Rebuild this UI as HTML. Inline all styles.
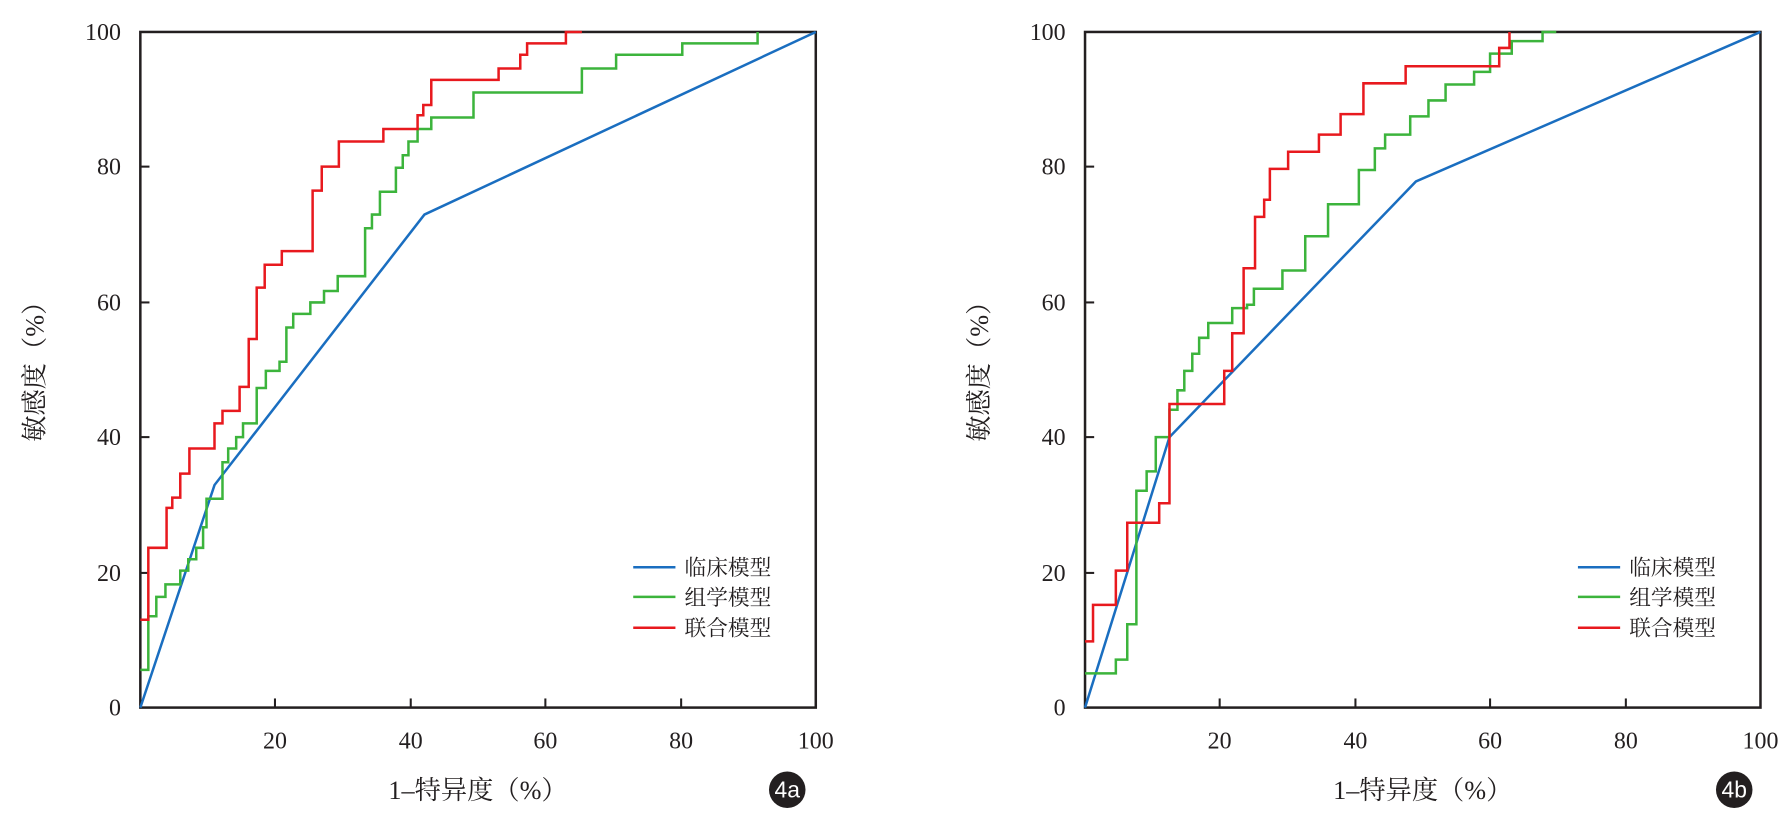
<!DOCTYPE html>
<html><head><meta charset="utf-8"><style>
html,body{margin:0;padding:0;background:#fff;}
svg{display:block;}
svg text{font-family:"Liberation Serif","Noto Serif CJK SC",serif;fill:#231f20;}
</style></head><body>
<svg width="1789" height="824" viewBox="0 0 1568 722" preserveAspectRatio="none" xmlns="http://www.w3.org/2000/svg">
<defs>
<g id="axes">
<rect x="123" y="28" width="592" height="592" fill="none" stroke="#231f20" stroke-width="2.2"/>
<g stroke="#231f20" stroke-width="1.8">
<line x1="241" y1="620" x2="241" y2="612"/><line x1="360" y1="620" x2="360" y2="612"/><line x1="478" y1="620" x2="478" y2="612"/><line x1="597" y1="620" x2="597" y2="612"/>
<line x1="123" y1="502" x2="131" y2="502"/><line x1="123" y1="383" x2="131" y2="383"/><line x1="123" y1="265" x2="131" y2="265"/><line x1="123" y1="146" x2="131" y2="146"/>
</g>
<g font-size="21" text-anchor="end">
<text x="106" y="627">0</text><text x="106" y="509">20</text><text x="106" y="390">40</text><text x="106" y="272">60</text><text x="106" y="153">80</text><text x="106" y="35">100</text>
</g>
<g font-size="21" text-anchor="middle">
<text x="241" y="656">20</text><text x="360" y="656">40</text><text x="478" y="656">60</text><text x="597" y="656">80</text><text x="715" y="656">100</text>
</g>
<text x="419" y="700" font-size="23" text-anchor="middle">1–特异度（%）</text>
<text transform="translate(38,320) rotate(-90)" font-size="23" text-anchor="middle">敏感度（%）</text>
<g font-size="19" stroke-width="2.2">
<line x1="555" y1="497" x2="592" y2="497" stroke="#1a6ec0"/><text x="600" y="504">临床模型</text>
<line x1="555" y1="523" x2="592" y2="523" stroke="#3cb43c"/><text x="600" y="530">组学模型</text>
<line x1="555" y1="550" x2="592" y2="550" stroke="#e8191e"/><text x="600" y="557">联合模型</text>
</g>
</g>
</defs>
<use href="#axes"/>
<g fill="none" stroke-width="2.2">
<path d="M123,620 L188,425 L372,188 L715,28" stroke="#1a6ec0"/>
<path d="M123,587 H130 V540 H137 V523 H145 V512 H158 V500 H165 V490 H172 V480 H178 V462 H181 V437 H195 V405 H200 V393 H207 V383 H213 V371 H225 V340 H233 V325 H245 V317 H251 V287 H257 V275 H272 V265 H284 V255 H296 V242 H320 V200 H326 V188 H333 V168 H347 V147 H353 V136 H358 V124 H366 V113 H378 V103 H415 V81 H510 V60 H540 V48 H598 V38 H664 V28" stroke="#3cb43c"/>
<path d="M123,543 H130 V480 H146 V445 H151 V436 H158 V415 H166 V393 H188 V371 H195 V360 H210 V339 H218 V297 H225 V252 H232 V232 H247 V220 H274 V167 H282 V146 H297 V124 H336 V113 H366 V101 H371 V92 H378 V70 H437 V60 H456 V48 H462 V38 H496 V28 H510" stroke="#e8191e"/>
</g>
<circle cx="690" cy="692" r="16" fill="#231f20"/><text x="690" y="699" font-size="20" text-anchor="middle" style="fill:#fff;font-family:'Liberation Sans',sans-serif">4a</text>

<use href="#axes" transform="translate(828,0)"/>
<g fill="none" stroke-width="2.2">
<path d="M951,620 L1025,383 L1241,159 L1543,28" stroke="#1a6ec0"/>
<path d="M951,590 H978 V578 H988 V547 H996 V430 H1005 V413 H1013 V383 H1025 V359 H1032 V342 H1038 V325 H1045 V310 H1051 V296 H1059 V283 H1080 V270 H1093 V267 H1099 V253 H1124 V237 H1144 V207 H1164 V179 H1191 V149 H1205 V130 H1214 V118 H1236 V102 H1252 V88 H1267 V74 H1292 V63 H1306 V47 H1325 V36 H1352 V28 H1364" stroke="#3cb43c"/>
<path d="M951,562 H958 V530 H978 V500 H988 V458 H1016 V441 H1025 V354 H1073 V325 H1080 V292 H1090 V235 H1100 V190 H1108 V175 H1113 V148 H1129 V133 H1156 V118 H1175 V100 H1195 V73 H1232 V58 H1314 V42 H1323 V28" stroke="#e8191e"/>
</g>
<circle cx="1520" cy="692" r="16" fill="#231f20"/><text x="1520" y="699" font-size="20" text-anchor="middle" style="fill:#fff;font-family:'Liberation Sans',sans-serif">4b</text>
</svg>
</body></html>
